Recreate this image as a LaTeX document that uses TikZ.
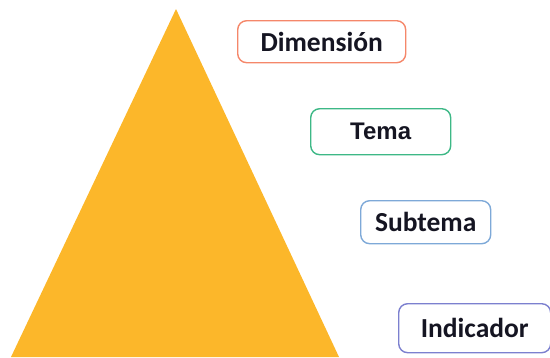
\documentclass[tikz,border=0pt]{standalone}
\usepackage{fontspec}
\setmainfont{Carlito}
\newfontfamily\arialbold{Liberation Sans}
\definecolor{pyramid}{HTML}{FCB72A}
\definecolor{dimcol}{HTML}{F5876A}
\definecolor{temacol}{HTML}{3DB886}
\definecolor{subcol}{HTML}{7EA9D8}
\definecolor{indcol}{HTML}{7C80CF}
\definecolor{ink}{HTML}{151522}
\begin{document}
\begin{tikzpicture}[x=1pt,y=-1pt,
  level/.style={draw=#1, line width=1.4pt, rounded corners=9pt, fill=white,
    text=ink, font=\fontsize{27.5}{31}\selectfont\bfseries,
    inner sep=0pt, anchor=north west}]
\useasboundingbox (0,0) rectangle (550,357);
% pyramid
\fill[pyramid] (176,9) -- (339,357) -- (11,357) -- cycle;
% levels
\node[level=dimcol, minimum width=168pt, minimum height=42pt] (dim) at (237,20) {Dimensión};
\node[level=temacol, minimum width=140pt, minimum height=46pt,
  font=\arialbold\fontsize{24}{28}\selectfont\bfseries] (tema) at (310,108) {Tema\hspace{12pt}};
\node[level=subcol, minimum width=130pt, minimum height=43pt] (sub) at (360,200) {Subtema};
\node[level=indcol, minimum width=152pt, minimum height=49pt] (ind) at (398,303) {Indicador};
\end{tikzpicture}
\end{document}
